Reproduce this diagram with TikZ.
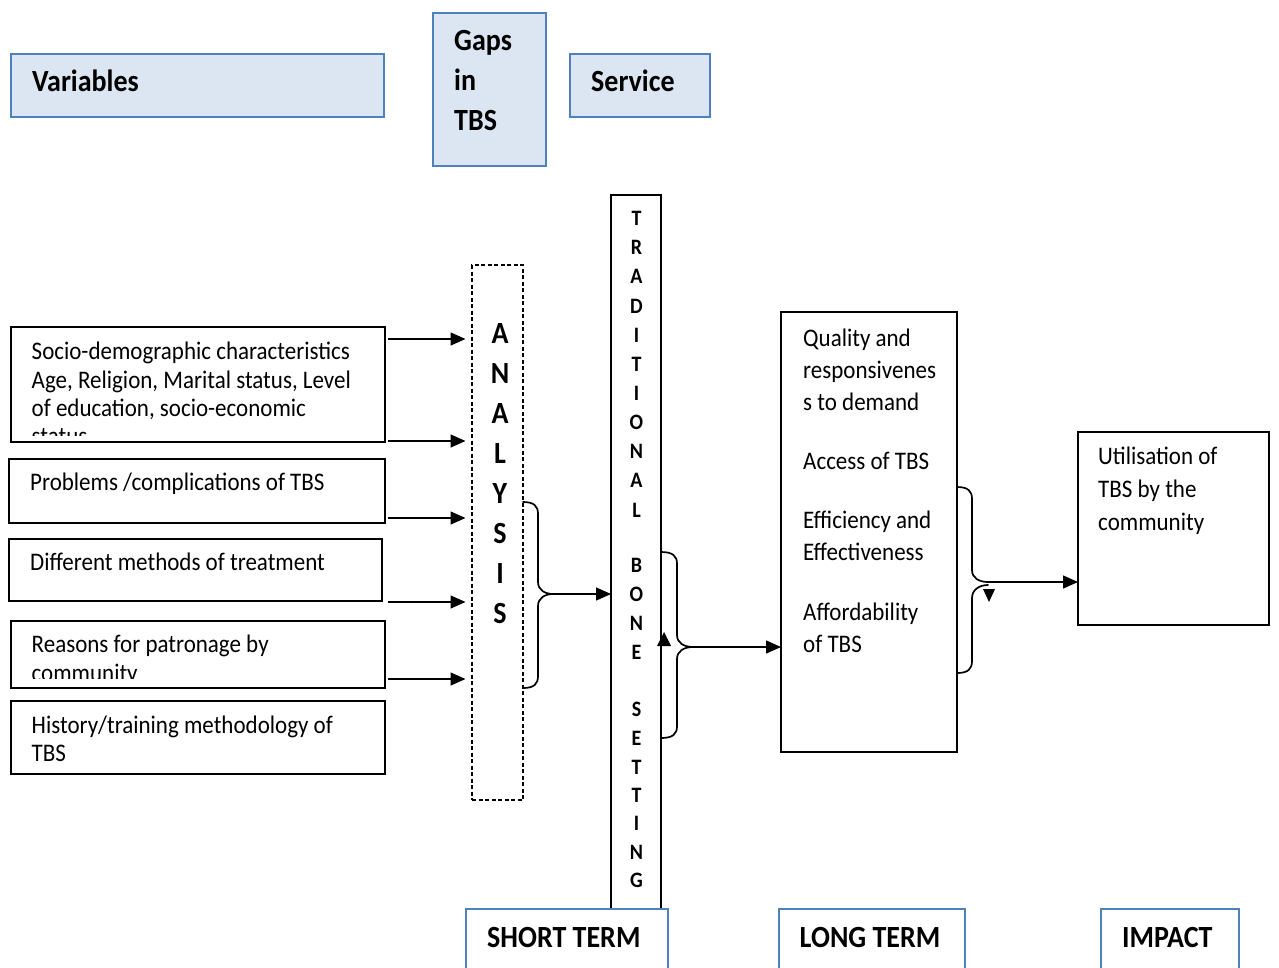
\documentclass[tikz,border=0pt]{standalone}
\usepackage{fontspec}
\usepackage{graphicx}
\setmainfont{Carlito}
\usetikzlibrary{arrows.meta}

\definecolor{frameblue}{HTML}{4F81BD}
\definecolor{paleblue}{HTML}{DCE6F2}

\newcommand{\bodyfont}{\fontsize{23}{28}\selectfont}
\newcommand{\headfont}{\fontsize{28}{34}\selectfont\bfseries}
\newcommand{\stackfont}{\fontsize{28}{34}\selectfont\bfseries}
\newcommand{\spinefont}{\fontsize{20}{24}\selectfont\bfseries}
% slightly tall lettering
\newcommand{\tl}[1]{\scalebox{1}[1.1]{#1}}

\begin{document}
\begin{tikzpicture}[x=1pt, y=-1pt,
  panel/.style={anchor=north west, inner sep=0pt, outer sep=0pt},
  headbox/.style={panel, draw=frameblue, fill=paleblue, line width=2.4pt},
  termbox/.style={panel, draw=frameblue, fill=white, line width=2.4pt},
  plainbox/.style={panel, draw=black, fill=white, line width=1.8pt},
  dashbox/.style={panel, draw=black, line width=1.1pt, dash pattern=on 4pt off 2.5pt},
  bodytext/.style={anchor=base west, inner sep=0pt, font=\bodyfont},
  headtext/.style={anchor=base west, inner sep=0pt, font=\headfont},
  stacktext/.style={anchor=base, inner sep=0pt, font=\stackfont},
  spinetext/.style={anchor=base, inner sep=0pt, font=\spinefont},
  arr/.style={line width=1.4pt, -{Triangle[length=15pt, width=13pt]}},
  bracepath/.style={line width=1.7pt, line cap=round}
]
\clip (0,0) rectangle (1279,967);
\fill[white] (0,0) rectangle (1279,967);

% ---------- header row ----------
\node[headbox, minimum width=373, minimum height=63] (var)  at (11,54) {};
\node[headbox, minimum width=113, minimum height=153] (gaps) at (433,13) {};
\node[headbox, minimum width=140, minimum height=63] (serv) at (570,54) {};
\node[headtext] (varT)  at (32,91.7)  {\tl{Variables}};
\node[headtext] (gapsA) at (454,50)   {\tl{Gaps}};
\node[headtext] (gapsB) at (454,90)   {\tl{in}};
\node[headtext] (gapsC) at (454,130.7) {\tl{TBS}};
\node[headtext] (servT) at (591,91.7) {\tl{Service}};

% ---------- variable boxes ----------
\node[plainbox, minimum width=374, minimum height=115] (v1) at (11,327) {};
\node[plainbox, minimum width=376, minimum height=64]  (v2) at (9,459) {};
\node[plainbox, minimum width=373, minimum height=62]  (v3) at (9,539) {};
\node[plainbox, minimum width=374, minimum height=67]  (v4) at (11,621) {};
\node[plainbox, minimum width=374, minimum height=73]  (v5) at (11,701) {};

\node[bodytext] (v1a) at (31.5,359.5) {\tl{Socio-demographic characteristics}};
\node[bodytext] (v1b) at (31.5,388)   {\tl{Age, Religion, Marital status, Level}};
\node[bodytext] (v1c) at (31.5,416.5) {\tl{of education, socio-economic}};
\begin{scope}
  \clip (12,400) rectangle (384,435);
  \node[bodytext] (v1d) at (31.5,444) {\tl{status}};
\end{scope}
\node[bodytext] (v2a) at (30,490)   {\tl{Problems /complications of TBS}};
\node[bodytext] (v3a) at (30,570)   {\tl{Different methods of treatment}};
\node[bodytext] (v4a) at (31.5,652.5) {\tl{Reasons for patronage by}};
\begin{scope}
  \clip (12,655) rectangle (384,678);
  \node[bodytext] (v4b) at (31.5,681) {\tl{community}};
\end{scope}
\node[bodytext] (v5a) at (31.5,733) {\tl{History/training methodology of}};
\node[bodytext] (v5b) at (31.5,761) {\tl{TBS}};

% ---------- analysis column ----------
\node[dashbox, minimum width=51, minimum height=535] (ana) at (472,265) {};
\foreach \ch [count=\k from 0] in {A,N,A,L,Y,S,I,S}
  \node[stacktext] (ana\k) at (500,343+40*\k) {\tl{\ch}};

% ---------- traditional bone setting column ----------
\node[plainbox, minimum width=50, minimum height=715] (tbs) at (611,195) {};
\foreach \ch/\yy [count=\k] in {T/218,R/247,A/276,D/306,I/335,T/364,I/393,O/422,N/451,A/480,L/510,
                               B/565,O/594,N/623,E/652,
                               S/709,E/738,T/767,T/795,I/823,N/852,G/880}
  \node[spinetext] (tbs\k) at (636.5,\yy+7) {\tl{\ch}};

% ---------- long term outcomes ----------
\node[plainbox, minimum width=176, minimum height=440] (lt) at (781,312) {};
\node[bodytext] (lt1) at (803,346) {\tl{Quality and}};
\node[bodytext] (lt2) at (803,378) {\tl{responsivenes}};
\node[bodytext] (lt3) at (803,410) {\tl{s to demand}};
\node[bodytext] (lt4) at (803,469) {\tl{Access of TBS}};
\node[bodytext] (lt5) at (803,528) {\tl{Efficiency and}};
\node[bodytext] (lt6) at (803,560) {\tl{Effectiveness}};
\node[bodytext] (lt7) at (803,620) {\tl{Affordability}};
\node[bodytext] (lt8) at (803,652) {\tl{of TBS}};

% ---------- impact ----------
\node[plainbox, minimum width=191, minimum height=193] (imp) at (1078,432) {};
\node[bodytext] (imp1) at (1098,464) {\tl{Utilisation of}};
\node[bodytext] (imp2) at (1098,497) {\tl{TBS by the}};
\node[bodytext] (imp3) at (1098,530) {\tl{community}};

% ---------- bottom stage labels ----------
\node[termbox, minimum width=202, minimum height=80] (short) at (466,909) {};
\node[termbox, minimum width=186, minimum height=80] (long)  at (779,909) {};
\node[termbox, minimum width=138, minimum height=80] (impl)  at (1101,909) {};
\node[headtext] (shortT) at (487,947)   {\tl{SHORT TERM}};
\node[headtext] (longT)  at (799.5,947) {\tl{LONG TERM}};
\node[headtext] (implT)  at (1122,947)  {\tl{IMPACT}};

% ---------- arrows into the analysis column ----------
\coordinate (s1) at (388,339);
\coordinate (s2) at (388,441);
\coordinate (s3) at (388,518);
\coordinate (s4) at (388,602);
\coordinate (s5) at (388,679);
\foreach \s in {s1,s2,s3,s4,s5}
  \draw[arr, shorten >=6.5pt] (\s) -- (ana.west |- \s);

% ---------- braces ----------
\coordinate (tipA) at (553,594);
\draw[bracepath] (ana.east |- 0,502) .. controls (534,502) and (538,506) .. (538,514)
  -- (538,582) .. controls (538,590) and (545,594) .. (tipA)
  .. controls (545,594) and (538,598) .. (538,606)
  -- (538,676) .. controls (538,684) and (534,688) .. (ana.east |- 0,688);
\draw[arr] (tipA) -- (tbs.west |- tipA);

\coordinate (tipB) at (693,647);
\draw[bracepath] (tbs.east |- 0,552) .. controls (673,552) and (677,556) .. (677,564)
  -- (677,635) .. controls (677,643) and (684,647) .. (tipB)
  .. controls (684,647) and (677,651) .. (677,659)
  -- (677,726) .. controls (677,734) and (673,738) .. (tbs.east |- 0,738);
\draw[arr] (tipB) -- (lt.west |- tipB);
\fill (657,646) -- (671,646) -- (664,632) -- cycle;

\coordinate (tipC) at (988,582);
\draw[bracepath] (lt.east |- 0,487) .. controls (968,487) and (972,491) .. (972,499)
  -- (972,570) .. controls (972,578) and (979,582) .. (tipC);
\draw[bracepath] (988,585) .. controls (979,585) and (972,590) .. (972,598)
  -- (972,661) .. controls (972,669) and (968,673) .. (lt.east |- 0,673);
\draw[arr] (tipC) -- (imp.west |- tipC);
\fill (983,589) -- (995,589) -- (989,602) -- cycle;
\end{tikzpicture}
\end{document}
